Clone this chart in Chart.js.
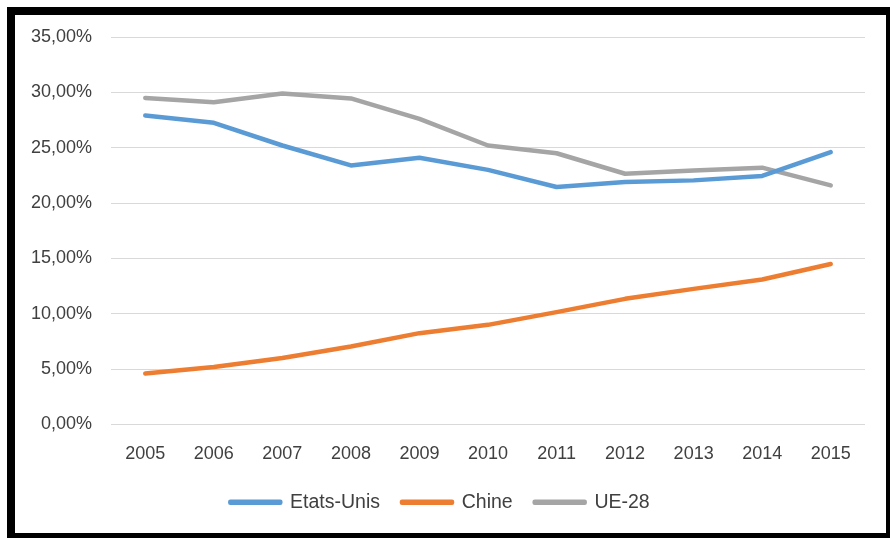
<!DOCTYPE html>
<html>
<head>
<meta charset="utf-8">
<script src="https://cdn.jsdelivr.net/npm/chart.js@4"></script>
<style>
  html, body { margin: 0; padding: 0; background: #fff; overflow: hidden; }
  body { width: 890px; height: 538px; position: relative; }
  #frame {
    position: absolute; left: 7px; top: 7px;
    width: 887px; height: 534px;
    box-sizing: border-box;
    border: 8px solid #000;
    background: #fff;
  }
  #wrap { position: absolute; left: 15px; top: 15px; width: 871px; height: 518px; }
</style>
</head>
<body>
<div id="frame"></div>
<div id="wrap"><canvas id="chart"></canvas></div>
<script>
/* Data */
const years = ['2005', '2006', '2007', '2008', '2009', '2010', '2011', '2012', '2013', '2014', '2015'];
const etatsUnis = [27.9, 27.25, 25.2, 23.4, 24.1, 23.0, 21.45, 21.9, 22.05, 22.45, 24.6];
const chine = [4.6, 5.2, 6.0, 7.05, 8.25, 9.0, 10.15, 11.35, 12.25, 13.1, 14.5];
const ue28 = [29.5, 29.1, 29.9, 29.45, 27.6, 25.2, 24.5, 22.65, 22.95, 23.2, 21.6];
const yTicks = [0, 5, 10, 15, 20, 25, 30, 35];

const textColor = '#404040';
const font = { family: 'Liberation Sans', size: 18 };

function series(label, data, color) {
    return {
        label: label,
        data: data,
        borderColor: color,
        backgroundColor: color,
        borderWidth: 4.5,
        pointRadius: 0,
        tension: 0,
        borderCapStyle: 'round',
        borderJoinStyle: 'round'
    };
}

new Chart(document.getElementById('chart'), {
    type: 'line',
    data: {
        labels: years,
        datasets: [
            series('Etats-Unis', etatsUnis, '#5B9BD5'),
            series('Chine', chine, '#ED7D31'),
            series('UE-28', ue28, '#A5A5A5')
        ]
    },
    options: {
        responsive: true,
        maintainAspectRatio: false,
        animation: false,
        layout: { padding: { top: 22, right: 21, bottom: 11, left: 0 } },
        plugins: {
            tooltip: { enabled: false },
            legend: {
                position: 'bottom',
                labels: {
                    color: textColor,
                    font: { family: 'Liberation Sans', size: 19.5 },
                    boxWidth: 50,
                    boxHeight: 1,
                    padding: 22
                }
            }
        },
        scales: {
            y: {
                min: 0,
                max: 35,
                afterBuildTicks: (scale) => { scale.ticks = yTicks.map(v => ({ value: v })); },
                afterFit: (scale) => { scale.width = 96; },
                border: { display: false },
                // invisible tick marks push the labels left without padding the top
                grid: { color: '#D9D9D9', lineWidth: 1, drawTicks: true, tickLength: 19, tickColor: 'rgba(0,0,0,0)' },
                ticks: {
                    color: textColor,
                    font: font,
                    padding: 0,
                    callback: (v) => v.toFixed(2).replace('.', ',') + '%'
                }
            },
            x: {
                offset: true,
                afterFit: (scale) => { scale.height = 46; },
                border: { display: false },
                grid: { display: false, drawTicks: false },
                ticks: { color: textColor, font: font, padding: 19, maxRotation: 0 }
            }
        }
    }
});
</script>
</body>
</html>
